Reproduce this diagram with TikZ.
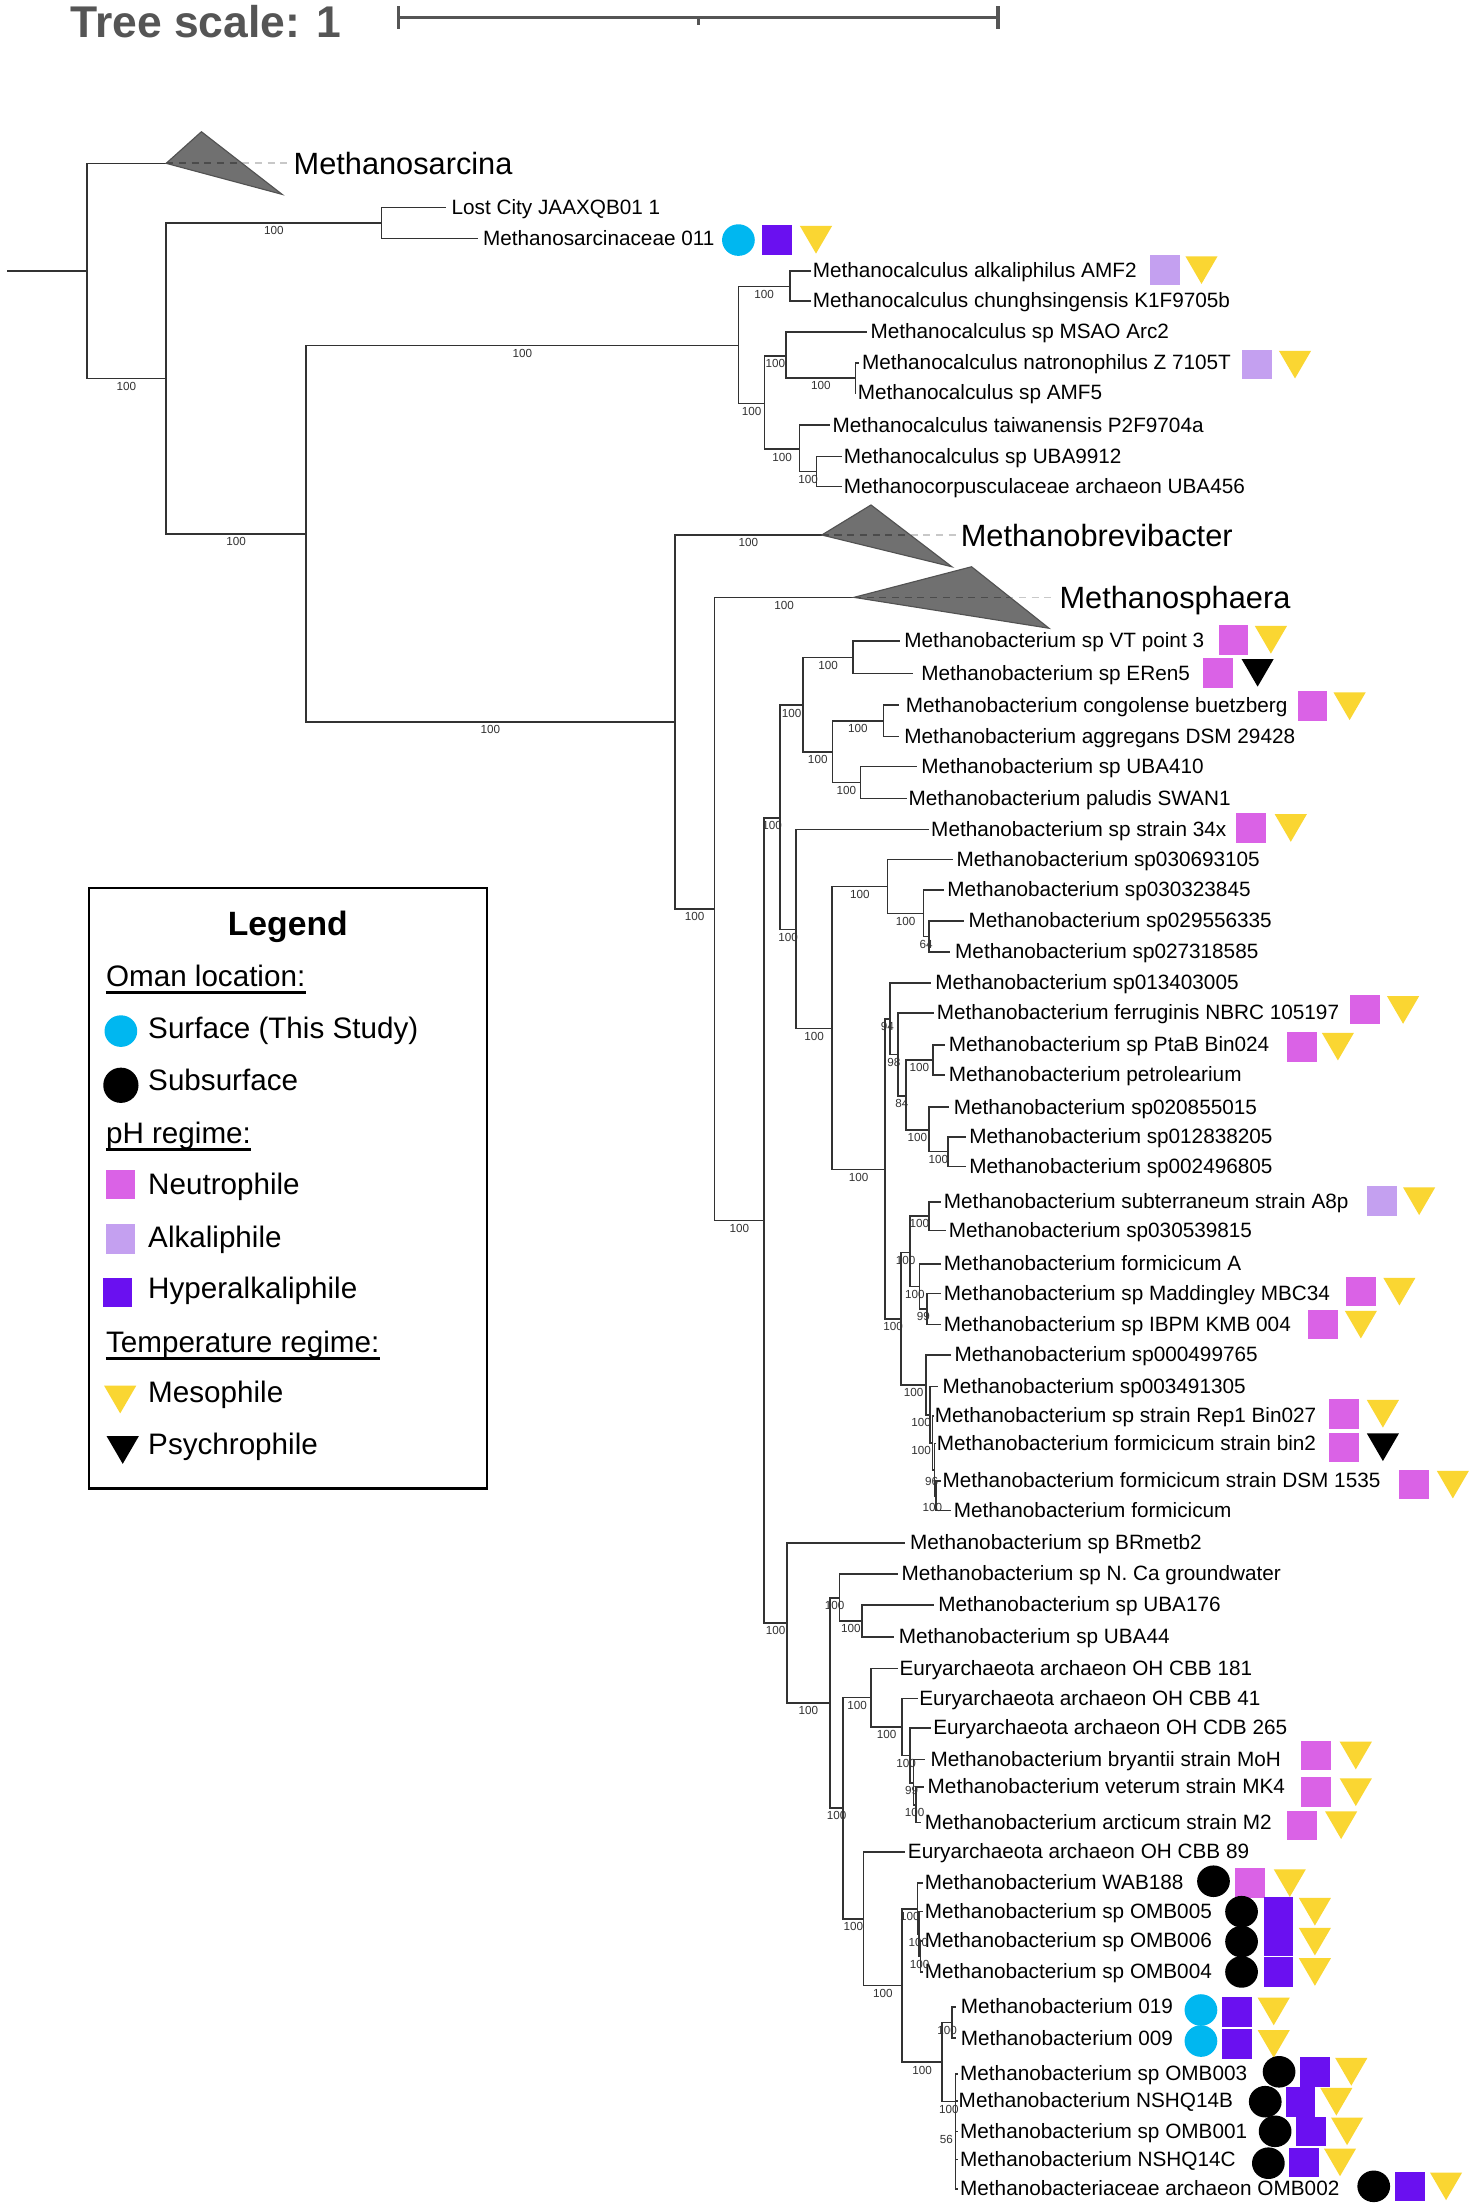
\documentclass[tikz,border=0pt]{standalone}
\usepackage{fontspec}
\setmainfont{Liberation Sans}
\definecolor{cyanc}{RGB}{0,183,240}
\definecolor{neuc}{RGB}{218,98,230}
\definecolor{alkc}{RGB}{196,160,240}
\definecolor{hypc}{RGB}{106,16,240}
\definecolor{yelc}{RGB}{250,214,50}
\definecolor{titlec}{RGB}{85,85,85}
\definecolor{brc}{RGB}{50,50,50}
\definecolor{dashlight}{RGB}{200,200,200}
\definecolor{dashdark}{RGB}{75,75,75}
\tikzset{
  br/.style={draw=brc, line width=1.1pt},
  lbl/.style={anchor=base west, inner sep=0pt, font=\fontsize{14.7}{17}\selectfont},
  bsl/.style={inner sep=0pt, font=\fontsize{8.3}{9}\selectfont, text=black!80},
  clade/.style={fill=black!56, draw=black!68, line width=0.8pt},
  cladelbl/.style={anchor=base west, inner sep=0pt, font=\fontsize{21.8}{24}\selectfont},
  leglbl/.style={anchor=base west, inner sep=0pt, font=\fontsize{21}{24}\selectfont},
  sbar/.style={draw=titlec, line width=2.3pt},
  cdash/.style={line width=1.2pt, dash pattern=on 5pt off 4pt},
  uline/.style={line width=1.9pt},
}
\newcommand\leafnode[5]{%
  \coordinate (#1) at (#2,#3);
  \node[lbl] (#1-t) at (#4,#3+4.8) {#5};}
\newcommand\tedge[3]{\draw[br] (#1) |- (#2) node[bsl,pos=0.75,yshift=-5.5pt] (b-#2) {#3};}
\newcommand\tedgeat[5]{\draw[br] (#1) |- (#2); \node[bsl] (b-#2) at (#4,#5) {#3};}
\newcommand\ledge[2]{\draw[br] (#1) |- (#2);}
\newcommand\mkcirc[3]{\fill[#1] (#2,#3) ellipse [x radius=11.6, y radius=11.2];}
\newcommand\mksq[3]{\fill[#1] (#2-10.6,#3-10.5) rectangle (#2+10.6,#3+10.5);}
\newcommand\mktri[3]{\fill[#1] (#2-11.4,#3-9.8) -- (#2+11.4,#3-9.8) -- (#2,#3+9.8) -- cycle;}
\begin{document}
\begin{tikzpicture}[x=1pt,y=-1pt]
\useasboundingbox (0,0) rectangle (1045,1567.5);
\fill[white] (0,0) rectangle (1045,1567.5);

% title and scale bar
\node[anchor=base west, inner sep=0pt, font=\bfseries\fontsize{31.5}{34}\selectfont, text=titlec] (title) at (49.8,26.5) {Tree scale: 1};
\draw[sbar] (282.6,12.5) -- (707.5,12.5);
\draw[sbar] (282.6,4.5) -- (282.6,20.5);
\draw[sbar] (707.5,4.5) -- (707.5,20.5);
\draw[sbar] (495,12.5) -- (495,18);

% internal nodes
\coordinate (root) at (5,192);
\coordinate (A) at (61.5,192);
\coordinate (Msar) at (117.8,115.8);
\coordinate (B) at (117.8,268.2);
\coordinate (C) at (270.4,158);
\coordinate (D) at (217,378.5);
\coordinate (E) at (523.6,245);
\coordinate (E1) at (560,203);
\coordinate (E2) at (542.1,286);
\coordinate (E3) at (557.3,252.5);
\coordinate (E5) at (606.5,268);
\coordinate (E4) at (566.8,318.5);
\coordinate (E6) at (578.9,334.3);
\coordinate (F) at (478.4,511.9);
\coordinate (Mbv) at (582.6,379.3);
\coordinate (G) at (506.5,644.4);
\coordinate (Msph) at (605.4,423.5);
\coordinate (H) at (541.7,865.4);
\coordinate (I) at (553,580);
\coordinate (J) at (569.3,500);
\coordinate (L) at (604.8,466);
\coordinate (M) at (590.2,533);
\coordinate (N) at (626.2,511);
\coordinate (O) at (610,554.8);
\coordinate (K) at (564.5,659);
\coordinate (P) at (590,729);
\coordinate (Q) at (629.3,628.5);
\coordinate (R) at (654.7,647.5);
\coordinate (S) at (658.5,664);
\coordinate (T) at (627.5,829);
\coordinate (U) at (630.8,722.5);
\coordinate (V) at (636.7,747.5);
\coordinate (W) at (642.2,777);
\coordinate (X) at (661.5,751.5);
\coordinate (Y) at (658.5,801);
\coordinate (Z) at (672,816.5);
\coordinate (AA) at (638.8,935);
\coordinate (AB) at (645.2,888);
\coordinate (AD) at (658.5,862.2);
\coordinate (AE) at (652,912);
\coordinate (AF) at (657.3,928);
\coordinate (AC) at (656.5,981.8);
\coordinate (AG) at (659.5,1003);
\coordinate (AH) at (661,1023);
\coordinate (AI) at (662.5,1042);
\coordinate (AJ) at (663.5,1060.5);
\coordinate (BA) at (558,1150.7);
\coordinate (BB) at (588.3,1207.4);
\coordinate (BC) at (595.2,1132.8);
\coordinate (BD) at (611.1,1149.3);
\coordinate (BE) at (597.8,1281.9);
\coordinate (BF) at (617.5,1203.5);
\coordinate (BH) at (639.5,1224.3);
\coordinate (BI) at (645.2,1244.6);
\coordinate (BJ) at (647.5,1264);
\coordinate (BK) at (649.5,1279.5);
\coordinate (BG) at (612.2,1360.3);
\coordinate (BL) at (639.5,1407.6);
\coordinate (BM) at (650.5,1353.3);
\coordinate (BO) at (651.5,1371.5);
\coordinate (BP) at (652.5,1387);
\coordinate (BN) at (668,1462);
\coordinate (BQ) at (674.8,1434);
\coordinate (BR) at (677.4,1490);

% leaves
\leafnode{lc}{316.5}{147}{320}{Lost City JAAXQB01 1}
\leafnode{m011}{339}{169}{342.3}{Methanosarcinaceae 011}
\leafnode{mc1}{575}{192}{576}{Methanocalculus alkaliphilus AMF2}
\leafnode{mc2}{575}{213.5}{576}{Methanocalculus chunghsingensis K1F9705b}
\leafnode{mc3}{615}{235.5}{617}{Methanocalculus sp MSAO Arc2}
\leafnode{mc4}{609}{257.3}{611}{Methanocalculus natronophilus Z 7105T}
\leafnode{mc5}{607}{278.6}{608}{Methanocalculus sp AMF5}
\leafnode{mc6}{588.3}{301.5}{590}{Methanocalculus taiwanensis P2F9704a}
\leafnode{mc7}{597}{323.5}{598}{Methanocalculus sp UBA9912}
\leafnode{mc8}{597}{345}{598}{Methanocorpusculaceae archaeon UBA456}
\leafnode{vt}{638}{454.5}{641}{Methanobacterium sp VT point 3}
\leafnode{eren}{647}{477.5}{653}{Methanobacterium sp ERen5}
\leafnode{cong}{637}{500}{642}{Methanobacterium congolense buetzberg}
\leafnode{aggr}{637}{522}{641}{Methanobacterium aggregans DSM 29428}
\leafnode{u410}{650}{543.5}{653}{Methanobacterium sp UBA410}
\leafnode{palu}{643}{566}{644}{Methanobacterium paludis SWAN1}
\leafnode{s34}{658.5}{588}{660}{Methanobacterium sp strain 34x}
\leafnode{s0306}{675.5}{609.5}{678}{Methanobacterium sp030693105}
\leafnode{s0303}{669.5}{631}{671.5}{Methanobacterium sp030323845}
\leafnode{s0295}{683.4}{653}{686.5}{Methanobacterium sp029556335}
\leafnode{s0273}{673.5}{675}{677}{Methanobacterium sp027318585}
\leafnode{s0134}{660}{697}{663}{Methanobacterium sp013403005}
\leafnode{ferr}{662}{718}{664}{Methanobacterium ferruginis NBRC 105197}
\leafnode{ptab}{670}{741}{672.5}{Methanobacterium sp PtaB Bin024}
\leafnode{petr}{670}{762}{672.5}{Methanobacterium petrolearium}
\leafnode{s0208}{672.8}{785}{676}{Methanobacterium sp020855015}
\leafnode{s0128}{685}{806}{687}{Methanobacterium sp012838205}
\leafnode{s0024}{685}{827}{687}{Methanobacterium sp002496805}
\leafnode{subt}{667}{852}{669}{Methanobacterium subterraneum strain A8p}
\leafnode{s0305}{671}{872.5}{672.5}{Methanobacterium sp030539815}
\leafnode{fora}{667}{896}{669}{Methanobacterium formicicum A}
\leafnode{madd}{667}{917}{669}{Methanobacterium sp Maddingley MBC34}
\leafnode{ibpm}{667}{939}{669}{Methanobacterium sp IBPM KMB 004}
\leafnode{s0004}{674}{960.5}{676.5}{Methanobacterium sp000499765}
\leafnode{s0034}{665}{983}{668}{Methanobacterium sp003491305}
\leafnode{rep1}{662}{1004}{662.5}{Methanobacterium sp strain Rep1 Bin027}
\leafnode{bin2}{663.5}{1023.5}{664}{Methanobacterium formicicum strain bin2}
\leafnode{dsm}{667}{1050}{668}{Methanobacterium formicicum strain DSM 1535}
\leafnode{form}{674}{1071}{676}{Methanobacterium formicicum}
\leafnode{brm}{641.4}{1094}{645}{Methanobacterium sp BRmetb2}
\leafnode{nca}{636.4}{1116}{639}{Methanobacterium sp N. Ca groundwater}
\leafnode{u176}{662}{1138}{665}{Methanobacterium sp UBA176}
\leafnode{u44}{634}{1160.5}{637}{Methanobacterium sp UBA44}
\leafnode{c181}{636.9}{1183}{637.5}{Euryarchaeota archaeon OH CBB 181}
\leafnode{c41}{650.8}{1204}{651.5}{Euryarchaeota archaeon OH CBB 41}
\leafnode{c265}{660}{1225}{661.5}{Euryarchaeota archaeon OH CDB 265}
\leafnode{bry}{656}{1247.5}{659.5}{Methanobacterium bryantii strain MoH}
\leafnode{vet}{655}{1267}{657.5}{Methanobacterium veterum strain MK4}
\leafnode{arc}{653}{1292}{655.5}{Methanobacterium arcticum strain M2}
\leafnode{c89}{641.4}{1313}{643.5}{Euryarchaeota archaeon OH CBB 89}
\leafnode{wab}{654.5}{1335}{655.5}{Methanobacterium WAB188}
\leafnode{o005}{654.5}{1355}{655.5}{Methanobacterium sp OMB005}
\leafnode{o006}{654.5}{1376}{655.5}{Methanobacterium sp OMB006}
\leafnode{o004}{654.5}{1398}{655.5}{Methanobacterium sp OMB004}
\leafnode{m019}{677.6}{1423}{681}{Methanobacterium 019}
\leafnode{m009}{677.6}{1445}{681}{Methanobacterium 009}
\leafnode{o003}{679}{1470.5}{680.5}{Methanobacterium sp OMB003}
\leafnode{n14b}{679}{1489.5}{679.5}{Methanobacterium NSHQ14B}
\leafnode{o001}{679}{1511}{680.5}{Methanobacterium sp OMB001}
\leafnode{n14c}{679}{1531}{680.5}{Methanobacterium NSHQ14C}
\leafnode{o002}{679}{1552}{680.5}{Methanobacteriaceae archaeon OMB002}

% edges
\draw[br] (root) -- (A);
\ledge{A}{Msar}
\tedge{A}{B}{100}
\tedge{B}{C}{100}
\ledge{C}{lc}
\ledge{C}{m011}
\tedge{B}{D}{100}
\tedge{D}{E}{100}
\tedge{D}{F}{100}
\tedge{E}{E1}{100}
\ledge{E1}{mc1}
\ledge{E1}{mc2}
\tedge{E}{E2}{100}
\tedge{E2}{E3}{100}
\ledge{E3}{mc3}
\tedge{E3}{E5}{100}
\ledge{E5}{mc4}
\ledge{E5}{mc5}
\tedge{E2}{E4}{100}
\ledge{E4}{mc6}
\tedge{E4}{E6}{100}
\ledge{E6}{mc7}
\ledge{E6}{mc8}
\tedge{F}{Mbv}{100}
\tedge{F}{G}{100}
\tedge{G}{Msph}{100}
\tedge{G}{H}{100}
\tedge{H}{I}{100}
\tedge{I}{J}{100}
\tedge{J}{L}{100}
\ledge{L}{vt}
\ledge{L}{eren}
\tedge{J}{M}{100}
\tedge{M}{N}{100}
\ledge{N}{cong}
\ledge{N}{aggr}
\tedge{M}{O}{100}
\ledge{O}{u410}
\ledge{O}{palu}
\tedge{I}{K}{100}
\ledge{K}{s34}
\tedge{K}{P}{100}
\tedge{P}{Q}{100}
\ledge{Q}{s0306}
\tedge{Q}{R}{100}
\ledge{R}{s0303}
\tedge{R}{S}{64}
\ledge{S}{s0295}
\ledge{S}{s0273}
\tedge{P}{T}{100}
\tedge{T}{U}{94}
\ledge{U}{s0134}
\tedge{U}{V}{98}
\ledge{V}{ferr}
\tedge{V}{W}{84}
\tedge{W}{X}{100}
\ledge{X}{ptab}
\ledge{X}{petr}
\tedge{W}{Y}{100}
\ledge{Y}{s0208}
\tedge{Y}{Z}{100}
\ledge{Z}{s0128}
\ledge{Z}{s0024}
\tedge{T}{AA}{100}
\tedge{AA}{AB}{100}
\tedge{AB}{AD}{100}
\ledge{AD}{subt}
\ledge{AD}{s0305}
\tedge{AB}{AE}{100}
\ledge{AE}{fora}
\tedge{AE}{AF}{99}
\ledge{AF}{madd}
\ledge{AF}{ibpm}
\tedge{AA}{AC}{100}
\ledge{AC}{s0004}
\tedgeat{AC}{AG}{100}{653}{1008.5}
\ledge{AG}{s0034}
\tedgeat{AG}{AH}{100}{653}{1028.5}
\ledge{AH}{rep1}
\tedgeat{AH}{AI}{96}{660.5}{1050}
\ledge{AI}{bin2}
\tedgeat{AI}{AJ}{100}{661}{1068.5}
\ledge{AJ}{dsm}
\ledge{AJ}{form}
\tedge{H}{BA}{100}
\ledge{BA}{brm}
\tedge{BA}{BB}{100}
\tedge{BB}{BC}{100}
\ledge{BC}{nca}
\tedge{BC}{BD}{100}
\ledge{BD}{u176}
\ledge{BD}{u44}
\tedge{BB}{BE}{100}
\tedge{BE}{BF}{100}
\ledge{BF}{c181}
\tedge{BF}{BH}{100}
\ledge{BH}{c41}
\tedge{BH}{BI}{100}
\ledge{BI}{c265}
\tedge{BI}{BJ}{99}
\ledge{BJ}{bry}
\tedge{BJ}{BK}{100}
\ledge{BK}{vet}
\ledge{BK}{arc}
\tedge{BE}{BG}{100}
\ledge{BG}{c89}
\tedge{BG}{BL}{100}
\tedge{BL}{BM}{100}
\ledge{BM}{wab}
\tedge{BM}{BO}{100}
\ledge{BO}{o005}
\tedge{BO}{BP}{100}
\ledge{BP}{o006}
\ledge{BP}{o004}
\tedge{BL}{BN}{100}
\tedge{BN}{BQ}{100}
\ledge{BQ}{m019}
\ledge{BQ}{m009}
\tedge{BN}{BR}{100}
\ledge{BR}{o003}
\ledge{BR}{n14b}
\ledge{BR}{o001}
\ledge{BR}{n14c}
\ledge{BR}{o002}
\node[bsl] (b-56) at (671,1517) {56};

% collapsed clades
\draw[cdash, dashlight] (Msar) -- (205,115.8);
\draw[clade] (Msar) -- (142.8,93.4) -- (200,137.8) -- cycle;
\begin{scope}
\clip (Msar) -- (142.8,93.4) -- (200,137.8) -- cycle;
\draw[cdash, dashdark] (Msar) -- (205,115.8);
\end{scope}
\node[cladelbl] (msar-t) at (208,123.6) {Methanosarcina};

\draw[cdash, dashlight] (Mbv) -- (678,379.3);
\draw[clade] (Mbv) -- (617.5,358) -- (674.8,401.8) -- cycle;
\begin{scope}
\clip (Mbv) -- (617.5,358) -- (674.8,401.8) -- cycle;
\draw[cdash, dashdark] (Mbv) -- (678,379.3);
\end{scope}
\node[cladelbl] (mbv-t) at (681,387.1) {Methanobrevibacter};

\draw[cdash, dashlight] (Msph) -- (748,423.5);
\draw[clade] (Msph) -- (688.8,401.8) -- (743.7,445.4) -- cycle;
\begin{scope}
\clip (Msph) -- (688.8,401.8) -- (743.7,445.4) -- cycle;
\draw[cdash, dashdark] (Msph) -- (748,423.5);
\end{scope}
\node[cladelbl] (msph-t) at (751,431.3) {Methanosphaera};

% trait icons
\mkcirc{cyanc}{523.5}{170.2}\mksq{hypc}{551}{170.2}\mktri{yelc}{578.5}{170}
\mksq{alkc}{826.2}{191.4}\mktri{yelc}{851.8}{191.5}
\mksq{alkc}{891.4}{258.5}\mktri{yelc}{918.1}{258.5}
\mksq{neuc}{874.5}{453.6}\mktri{yelc}{901}{453.6}
\mksq{neuc}{863.2}{477}\mktri{black}{891.6}{477}
\mksq{neuc}{930.5}{500.7}\mktri{yelc}{956.8}{500.7}
\mksq{neuc}{886.9}{586.9}\mktri{yelc}{915.1}{587}
\mksq{neuc}{968}{715.7}\mktri{yelc}{994.7}{716}
\mksq{neuc}{922.9}{742.3}\mktri{yelc}{948.5}{742}
\mksq{alkc}{979.8}{851.6}\mktri{yelc}{1006.1}{851.6}
\mksq{neuc}{964.6}{915.7}\mktri{yelc}{992.1}{915.7}
\mksq{neuc}{937.7}{939.1}\mktri{yelc}{964.8}{939.1}
\mksq{neuc}{952.9}{1002.3}\mktri{yelc}{980.4}{1002.3}
\mksq{neuc}{952.9}{1026.2}\mktri{black}{980.4}{1026}
\mksq{neuc}{1002.6}{1052.5}\mktri{yelc}{1030}{1052.5}
\mksq{neuc}{933.1}{1244.6}\mktri{yelc}{961.2}{1244.6}
\mksq{neuc}{933.1}{1270.6}\mktri{yelc}{961.2}{1270.6}
\mksq{neuc}{922.9}{1294.1}\mktri{yelc}{950.8}{1294}
\mkcirc{black}{860.3}{1333.7}\mksq{neuc}{886.5}{1335}\mktri{yelc}{914.4}{1335}
\mkcirc{black}{880.2}{1355.3}\mksq{hypc}{906.4}{1355.3}\mktri{yelc}{932.2}{1355.3}
\mkcirc{black}{880.2}{1376.5}\mksq{hypc}{906.4}{1376.5}\mktri{yelc}{932.2}{1376.5}
\mkcirc{black}{880.2}{1398}\mksq{hypc}{906.4}{1398}\mktri{yelc}{932.2}{1398}
\mkcirc{cyanc}{851.4}{1425}\mksq{hypc}{877}{1426.4}\mktri{yelc}{903}{1426}
\mkcirc{cyanc}{851.4}{1447}\mksq{hypc}{877}{1449}\mktri{yelc}{903}{1449}
\mkcirc{black}{906.8}{1468.8}\mksq{hypc}{932.4}{1468.8}\mktri{yelc}{958}{1468.8}
\mkcirc{black}{897}{1490}\mksq{hypc}{922}{1490}\mktri{yelc}{947.4}{1490}
\mkcirc{black}{904}{1511}\mksq{hypc}{929.6}{1511}\mktri{yelc}{955}{1511}
\mkcirc{black}{899.2}{1533.6}\mksq{hypc}{924.4}{1533}\mktri{yelc}{950}{1533}
\mkcirc{black}{973.9}{1550}\mksq{hypc}{999.5}{1550}\mktri{yelc}{1025.2}{1550}

% legend
\draw[line width=1.5pt] (63,629.6) rectangle (345.5,1055.3);
\node[anchor=base, inner sep=0pt, font=\bfseries\fontsize{23.9}{26}\selectfont] (leg-title) at (204,662.9) {Legend};
\node[leglbl] (leg-oman) at (75,699.4) {Oman location:};
\draw[uline] ([yshift=-4.4pt]leg-oman.base west) -- ([yshift=-4.4pt]leg-oman.base east);
\mkcirc{cyanc}{85.7}{731}
\node[leglbl] (leg-surf) at (104.9,736.4) {Surface (This Study)};
\fill[black] (85.7,769.4) circle [radius=12.5];
\node[leglbl] (leg-sub) at (104.9,773.4) {Subsurface};
\node[leglbl] (leg-ph) at (75,810.4) {pH regime:};
\draw[uline] ([yshift=-4.4pt]leg-ph.base west) -- ([yshift=-4.4pt]leg-ph.base east);
\fill[neuc] (75.2,829.8) rectangle (95.9,850.3);
\node[leglbl] (leg-neu) at (104.9,846.9) {Neutrophile};
\fill[alkc] (75.2,867.9) rectangle (95.9,888.7);
\node[leglbl] (leg-alk) at (104.9,884.4) {Alkaliphile};
\fill[hypc] (73.2,906.3) rectangle (93.8,926.6);
\node[leglbl] (leg-hyp) at (104.9,920.9) {Hyperalkaliphile};
\node[leglbl] (leg-temp) at (75,958.5) {Temperature regime:};
\draw[uline] ([yshift=-4.4pt]leg-temp.base west) -- ([yshift=-4.4pt]leg-temp.base east);
\mktri{yelc}{85.2}{992.2}
\node[leglbl] (leg-meso) at (104.9,994.6) {Mesophile};
\mktri{black}{87}{1028}
\node[leglbl] (leg-psy) at (104.9,1031) {Psychrophile};
\end{tikzpicture}
\end{document}
